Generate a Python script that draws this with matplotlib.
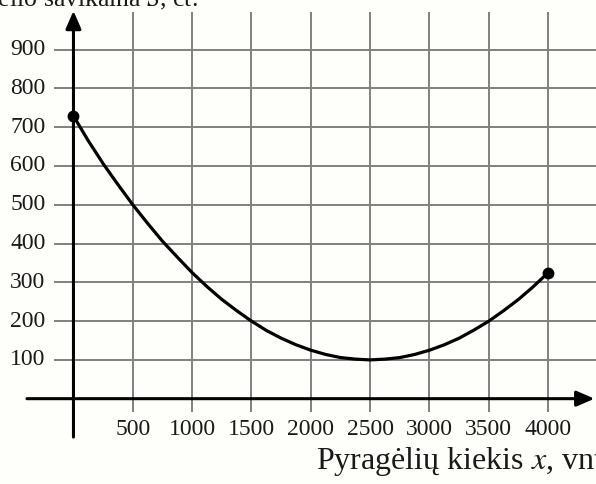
import matplotlib.pyplot as plt

# readings from the picture
qty = [0, 125, 250, 375, 500, 625, 750, 875, 1000, 1125, 1250, 1375, 1500,
       1625, 1750, 1875, 2000, 2125, 2250, 2375, 2500, 2625, 2750, 2875,
       3000, 3125, 3250, 3375, 3500, 3625, 3750, 3875, 4000]
cost = [729, 665, 606, 552, 500, 452, 406, 365, 325, 289, 256, 227, 200,
        176, 156, 139, 125, 114, 106, 102, 100, 102, 106, 114,
        125, 139, 156, 177, 200, 227, 256, 289, 325]
xticks = [500, 1000, 1500, 2000, 2500, 3000, 3500, 4000]
yticks = [100, 200, 300, 400, 500, 600, 700, 800, 900]
ends_x = [0, 4000]
ends_y = [729, 325]

plt.rcParams['font.family'] = ['Liberation Serif', 'DejaVu Serif']
plt.rcParams['mathtext.fontset'] = 'stix'
bg = '#fefefb'
grid_c = '#808080'

fig = plt.figure(figsize=(5.96, 4.84), dpi=100, facecolor=bg)
ax = fig.add_axes([0, 0, 1, 1], facecolor=bg)
ax.set_xlim(-619, 4403)
ax.set_ylim(-220, 1028)
ax.axis('off')

# grid
for y in yticks:
    ax.plot([-164, 4403], [y, y], color=grid_c, lw=1.4, zorder=1, solid_capstyle='butt')
    ax.text(-235, y, str(y), ha='right', va='center', fontsize=17, color='#1a1a1a')
for x in xticks:
    ax.plot([x, x], [-35, 996], color=grid_c, lw=1.4, zorder=1, solid_capstyle='butt')
    ax.text(x, -80, str(x), ha='center', va='center', fontsize=17, color='#1a1a1a')

# axes with arrows
ax.annotate('', xy=(4390, 0), xytext=(-392, 0),
            arrowprops=dict(arrowstyle='-|>,head_length=0.6,head_width=0.26',
                            lw=2.2, color='black', mutation_scale=18,
                            shrinkA=0, shrinkB=0), zorder=3)
ax.annotate('', xy=(0, 1000), xytext=(0, -99),
            arrowprops=dict(arrowstyle='-|>,head_length=0.6,head_width=0.26',
                            lw=2.2, color='black', mutation_scale=18,
                            shrinkA=0, shrinkB=0), zorder=3)

# curve
ax.plot(qty, cost, color='black', lw=2.3, zorder=4, solid_joinstyle='round')
ax.plot(ends_x, ends_y, 'o', color='black', ms=7.5, zorder=5)

# labels (cropped by the figure edges, as in the reference)
fig.text(198 / 596, 1 - 6 / 484, 'Vieno pyragėlio savikaina $S$, ct.', ha='right',
         va='baseline', fontsize=18.5, color='#1a1a1a')
fig.text(316 / 596, 1 - 469 / 484, 'Pyragėlių kiekis $x$, vnt.', ha='left',
         va='baseline', fontsize=23, color='#1a1a1a')

fig.savefig('out.png', dpi=100, facecolor=bg)
